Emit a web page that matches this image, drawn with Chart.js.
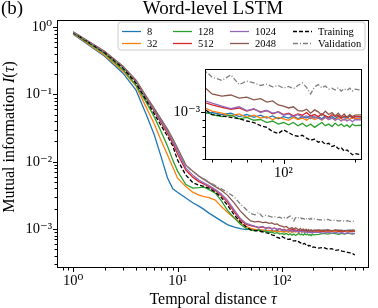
<!DOCTYPE html>
<html><head><meta charset="utf-8">
<script src="https://cdn.jsdelivr.net/npm/chart.js@4/dist/chart.umd.min.js"></script>
<style>
html,body{margin:0;padding:0;background:#fff;overflow:hidden;}
#wrap{position:relative;width:378px;height:308px;}
#main{position:absolute;left:0;top:0;width:378px;height:308px;}
#inset{position:absolute;left:160px;top:55px;width:210px;height:125px;}
</style></head><body>
<div id="wrap"><canvas id="main" width="378" height="308"></canvas><canvas id="inset" width="210" height="125"></canvas></div>
<script>
const tau = [1,2,3,4,5,6,7,8,9,10,12,14,16,18,20,23,26,30,35,40,45,
  50,55,60,65,70,75,80,85,90,95,100,105,110,115,120,125,130,135,140,145,150,155,160,165,170,175,180,185,190,195,200,
  225,250,275,300,325,350,375,400,425,450,475,500];

const mi8 = [0.787,0.371,0.207,0.116,0.0510,0.0248,0.0115,0.00577,0.00396,0.00351,0.00288,0.00245,0.00219,0.00194,0.00172,0.00150,0.00133,0.00116,0.00107,0.00101,0.00098,
  0.00100,0.00097,0.00099,0.00094,0.00097,0.00093,0.00096,0.00092,0.00095,0.00091,0.00094,0.00092,0.00095,0.00091,0.00094,0.00092,0.00096,0.00092,0.00094,0.00091,0.00095,0.00092,0.00094,0.00091,0.00095,0.00092,0.00094,0.00091,0.00095,0.00092,0.00094,
  0.00093,0.00096,0.00092,0.00095,0.00093,0.00096,0.00092,0.00095,0.00094,0.00097,0.00093,0.00095];
const mi32 = [0.800,0.384,0.222,0.133,0.0648,0.0362,0.0202,0.0127,0.00832,0.00570,0.00427,0.00353,0.00319,0.00303,0.00293,0.00269,0.00219,0.00178,0.00145,0.00124,0.00110,
  0.00102,0.00099,0.00095,0.00098,0.00093,0.00096,0.00092,0.00094,0.00090,0.00093,0.00091,0.00089,0.00093,0.00090,0.00092,0.00089,0.00093,0.00090,0.00092,0.00089,0.00093,0.00090,0.00092,0.00089,0.00093,0.00091,0.00089,0.00092,0.00090,0.00093,0.00091,
  0.00091,0.00093,0.00090,0.00094,0.00091,0.00093,0.00090,0.00092,0.00094,0.00091,0.00093,0.00092];
const mi128 = [0.814,0.404,0.2335,0.1375,0.0769,0.0460,0.0275,0.0171,0.01057,0.00725,0.00457,0.00405,0.00412,0.00420,0.00385,0.00341,0.00269,0.00191,0.00145,0.00118,0.00103,
  0.00097,0.00094,0.00096,0.00091,0.00093,0.00089,0.00090,0.00086,0.00088,0.00084,0.00086,0.00083,0.00086,0.00082,0.00085,0.00081,0.00084,0.00080,0.00083,0.00086,0.00082,0.00084,0.00081,0.00085,0.00082,0.00084,0.00081,0.00083,0.00080,0.00084,0.00082,
  0.00083,0.00086,0.00084,0.00087,0.00085,0.00083,0.00086,0.00084,0.00087,0.00085,0.00084,0.00086];
const mi512 = [0.843,0.425,0.2545,0.155,0.0866,0.0565,0.0375,0.0266,0.0189,0.0130,0.00750,0.00590,0.00506,0.00465,0.00427,0.00372,0.00319,0.00251,0.00178,0.00136,0.00118,
  0.00112,0.00108,0.00105,0.00107,0.00102,0.00105,0.00101,0.00103,0.00098,0.00101,0.00097,0.00099,0.00095,0.00098,0.00096,0.00100,0.00095,0.00097,0.00094,0.00098,0.00095,0.00093,0.00097,0.00094,0.00096,0.00092,0.00095,0.00093,0.00096,0.00092,0.00094,
  0.00094,0.00092,0.00095,0.00093,0.00096,0.00092,0.00094,0.00093,0.00095,0.00092,0.00094,0.00093];
const mi1024 = [0.843,0.4325,0.259,0.158,0.0897,0.0584,0.0394,0.0285,0.0202,0.0144,0.00803,0.00632,0.00533,0.00481,0.00441,0.00385,0.00336,0.00269,0.00191,0.00143,0.00122,
  0.00115,0.00110,0.00106,0.00109,0.00103,0.00106,0.00100,0.00103,0.00099,0.00101,0.00096,0.00098,0.00094,0.00097,0.00093,0.00095,0.00091,0.00094,0.00092,0.00090,0.00093,0.00090,0.00092,0.00089,0.00091,0.00088,0.00091,0.00088,0.00090,0.00087,0.00090,
  0.00089,0.00087,0.00090,0.00086,0.00089,0.00087,0.00088,0.00085,0.00088,0.00086,0.00087,0.00085];
const mi2048 = [0.857,0.440,0.263,0.163,0.0943,0.0615,0.0422,0.0305,0.0220,0.0159,0.00890,0.00725,0.00611,0.00542,0.00489,0.00427,0.00379,0.00319,0.00243,0.00184,0.00153,
  0.00132,0.00128,0.00130,0.00124,0.00126,0.00121,0.00123,0.00117,0.00119,0.00112,0.00110,0.00107,0.00109,0.00103,0.00102,0.00105,0.00099,0.00104,0.00101,0.00096,0.00102,0.00097,0.00100,0.00095,0.00099,0.00094,0.00098,0.00093,0.00097,0.00094,0.00096,
  0.00097,0.00095,0.00098,0.00094,0.00097,0.00095,0.00096,0.00093,0.00096,0.00094,0.00097,0.00095];
const miTrain = [0.829,0.418,0.246,0.147,0.0823,0.0510,0.0338,0.0240,0.0171,0.01057,0.00632,0.00489,0.00449,0.00427,0.00405,0.00353,0.00298,0.00227,0.00161,0.00127,0.00109,
  0.00097,0.00095,0.00093,0.00091,0.00088,0.00086,0.00082,0.00080,0.00075,0.00073,0.00077,0.00074,0.00071,0.00070,0.00071,0.00068,0.00066,0.00067,0.00064,0.00065,0.00062,0.00063,0.00060,0.00061,0.00058,0.00059,0.00056,0.00057,0.00055,0.00053,0.00054,
  0.00052,0.00053,0.00050,0.00051,0.00048,0.00049,0.00047,0.00046,0.00045,0.00044,0.00043,0.00041];
const miValid = [0.843,0.4325,0.259,0.160,0.0928,0.0605,0.0415,0.0300,0.0217,0.0157,0.00890,0.00713,0.00611,0.00551,0.00498,0.00441,0.00398,0.00353,0.00298,0.00235,0.00198,
  0.00170,0.00162,0.00176,0.00152,0.00160,0.00156,0.00150,0.00153,0.00147,0.00150,0.00144,0.00148,0.00143,0.00150,0.00156,0.00146,0.00132,0.00147,0.00152,0.00145,0.00149,0.00142,0.00144,0.00140,0.00145,0.00138,0.00143,0.00139,0.00144,0.00138,0.00142,
  0.00138,0.00135,0.00139,0.00133,0.00136,0.00131,0.00134,0.00130,0.00133,0.00129,0.00131,0.00128];

const seriesLabels = ['8','32','128','512','1024','2048','Training','Validation'];
const seriesValues = [mi8, mi32, mi128, mi512, mi1024, mi2048, miTrain, miValid];
const seriesColors = ['#1f77b4','#ff7f0e','#2ca02c','#d62728','#9467bd','#8c564b','#000000','#7f7f7f'];
const seriesDash = [[],[],[],[],[],[],[4,2],[5,2,1,2]];

const xMajorTicks = [1, 10, 100];
const xTickLabels = ['10\u2070','10\u00b9','10\u00b2'];
const yMajorTicks = [1, 0.1, 0.01, 0.001];
const yTickLabels = ['10\u2070','10\u207b\u00b9','10\u207b\u00b2','10\u207b\u00b3'];
const insetXMajorTicks = [100];
const insetXTickLabels = ['10\u00b2'];
const insetYMajorTicks = [0.001];
const insetYTickLabels = ['10\u207b\u00b3'];

const SERIF = "'Liberation Serif','DejaVu Serif',serif";

function logTicks(min, max) {
  const t = [];
  for (let e = Math.floor(Math.log10(min)); e <= Math.ceil(Math.log10(max)); e++) {
    for (let m = 1; m <= 9; m++) {
      const v = m * Math.pow(10, e);
      if (v >= min && v <= max) t.push({value: v, major: m === 1});
    }
  }
  return t;
}
function labeler(majors, labels) {
  return function(value) {
    for (let i = 0; i < majors.length; i++) if (Math.abs(value / majors[i] - 1) < 1e-6) return labels[i];
    return '';
  };
}
function makeDatasets() {
  return seriesLabels.map((lab, i) => ({
    label: lab,
    data: tau.map((t, j) => ({x: t, y: seriesValues[i][j]})),
    borderColor: seriesColors[i],
    backgroundColor: seriesColors[i],
    borderWidth: 1.3,
    borderDash: seriesDash[i],
    pointRadius: 0,
    fill: false,
    tension: 0,
    clip: 0,
    order: seriesLabels.length - i
  }));
}

const deco = {
  id: 'deco',
  beforeDraw(chart, args, opts) {
    if (opts.white) {
      const a = chart.chartArea, ctx = chart.ctx;
      ctx.save(); ctx.fillStyle = '#fff';
      ctx.fillRect(a.left, a.top, a.right - a.left, a.bottom - a.top);
      ctx.restore();
    }
  },
  afterDraw(chart, args, opts) {
    const ctx = chart.ctx, a = chart.chartArea;
    const xs = chart.scales.x, ys = chart.scales.y;
    ctx.save();
    ctx.strokeStyle = '#000'; ctx.lineWidth = 1;
    ctx.beginPath();
    const L = Math.round(a.left), R = Math.round(a.right), T = Math.round(a.top), B = Math.round(a.bottom);
    xs.ticks.forEach(t => {
      const p = Math.round(xs.getPixelForValue(t.value)) + 0.5;
      const len = t.major ? 4 : 2.5;
      ctx.moveTo(p, B); ctx.lineTo(p, B + len);
    });
    ys.ticks.forEach(t => {
      const p = Math.round(ys.getPixelForValue(t.value)) + 0.5;
      const len = t.major ? 4 : 2.5;
      ctx.moveTo(L, p); ctx.lineTo(L - len, p);
    });
    ctx.stroke();
    ctx.strokeRect(L + 0.5, T + 0.5, R - L - 1, B - T - 1);
    ctx.restore();

    if (!opts.texts) return;
    ctx.save();
    ctx.fillStyle = '#000';
    ctx.font = '19px ' + SERIF;
    ctx.textBaseline = 'alphabetic';
    ctx.textAlign = 'left';
    ctx.fillText('(b)', 1, 13.5);
    ctx.textAlign = 'center';
    ctx.fillText('Word-level LSTM', (a.left + a.right) / 2, 13.5);

    // x axis title
    const drawParts = (parts, cx, cy) => {
      let w = 0;
      parts.forEach(p => { ctx.font = p[1]; w += ctx.measureText(p[0]).width; });
      let x = cx - w / 2;
      ctx.textAlign = 'left';
      parts.forEach(p => { ctx.font = p[1]; ctx.fillText(p[0], x, cy); x += ctx.measureText(p[0]).width; });
    };
    const rf = '16px ' + SERIF, itf = 'italic 16px ' + SERIF;
    drawParts([['Temporal distance ', rf], ['\u03c4', itf]], (a.left + a.right) / 2, 304);
    ctx.save();
    ctx.translate(14, 137);
    ctx.rotate(-Math.PI / 2);
    drawParts([['Mutual information ', rf], ['I', itf], ['(', rf], ['\u03c4', itf], [')', rf]], 0, 0);
    ctx.restore();

    // legend
    const bx = 118, by = 22, bw = 247, bh = 28, r = 3;
    ctx.beginPath();
    ctx.moveTo(bx + r, by); ctx.lineTo(bx + bw - r, by); ctx.arcTo(bx + bw, by, bx + bw, by + r, r);
    ctx.lineTo(bx + bw, by + bh - r); ctx.arcTo(bx + bw, by + bh, bx + bw - r, by + bh, r);
    ctx.lineTo(bx + r, by + bh); ctx.arcTo(bx, by + bh, bx, by + bh - r, r);
    ctx.lineTo(bx, by + r); ctx.arcTo(bx, by, bx + r, by, r); ctx.closePath();
    ctx.fillStyle = 'rgba(255,255,255,0.8)'; ctx.fill();
    ctx.strokeStyle = '#cccccc'; ctx.lineWidth = 1; ctx.stroke();
    const colX = [122, 173, 230, 293], rowY = [31.5, 43.5];
    ctx.font = '10.5px ' + SERIF; ctx.textBaseline = 'middle'; ctx.textAlign = 'left';
    chart.data.datasets.forEach((ds, i) => {
      const cx = colX[Math.floor(i / 2)], cy = rowY[i % 2];
      ctx.save();
      ctx.strokeStyle = ds.borderColor; ctx.lineWidth = 1.3; ctx.setLineDash(ds.borderDash || []);
      ctx.beginPath(); ctx.moveTo(cx, cy); ctx.lineTo(cx + 19, cy); ctx.stroke();
      ctx.restore();
      ctx.fillStyle = '#000';
      ctx.fillText(ds.label, cx + 25, cy + 0.5);
    });
    ctx.restore();
  }
};

function axisCfg(min, max, majors, labels, isX, fixed, pad, fsize) {
  return {
    type: 'logarithmic',
    position: isX ? 'bottom' : 'left',
    min: min, max: max,
    afterBuildTicks: s => { s.ticks = logTicks(min, max); },
    afterFit: s => { if (isX) s.height = fixed; else s.width = fixed; },
    grid: {display: true, drawOnChartArea: false, drawTicks: false},
    border: {display: false},
    ticks: {
      autoSkip: false, maxRotation: 0, minRotation: 0, padding: pad,
      color: '#000', font: {family: SERIF, size: fsize},
      callback: labeler(majors, labels)
    }
  };
}

new Chart(document.getElementById('main'), {
  type: 'line',
  data: {datasets: makeDatasets()},
  options: {
    responsive: false, animation: false, devicePixelRatio: 1,
    parsing: true,
    layout: {padding: {top: 20, right: 9, left: 0, bottom: 0}},
    scales: {
      x: axisCfg(0.733, 682, xMajorTicks, xTickLabels, true, 40, 4, 14.5),
      y: axisCfg(2.63e-4, 1.28, yMajorTicks, yTickLabels, false, 57, 5, 14.5)
    },
    plugins: {legend: {display: false}, tooltip: {enabled: false}, deco: {texts: true, white: false}}
  },
  plugins: [deco]
});

new Chart(document.getElementById('inset'), {
  type: 'line',
  data: {datasets: makeDatasets()},
  options: {
    responsive: false, animation: false, devicePixelRatio: 1,
    layout: {padding: {top: 5, right: 8, left: 0, bottom: 0}},
    scales: {
      x: axisCfg(46.7, 214, insetXMajorTicks, insetXTickLabels, true, 20, 4, 14.5),
      y: axisCfg(4.9e-4, 1.93e-3, insetYMajorTicks, insetYTickLabels, false, 45, 5, 14.5)
    },
    plugins: {legend: {display: false}, tooltip: {enabled: false}, deco: {texts: false, white: true}}
  },
  plugins: [deco]
});
</script>
</body></html>
